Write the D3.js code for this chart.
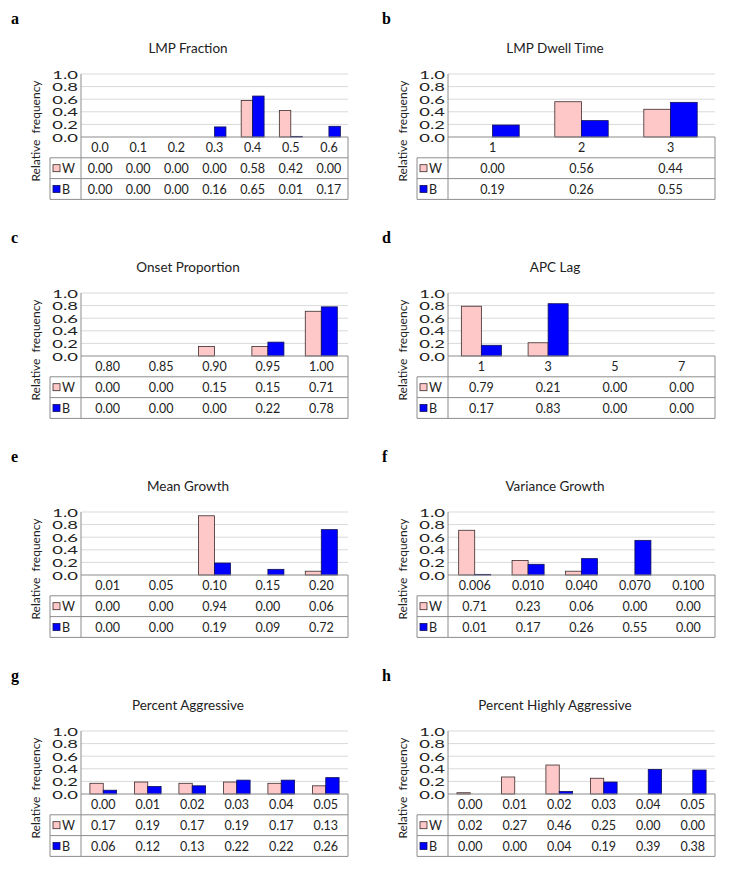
<!DOCTYPE html>
<html><head><meta charset="utf-8">
<script src="https://cdn.jsdelivr.net/npm/d3@7"></script>
<style>body{margin:0;background:#fff}</style>
</head><body><svg id="chart" width="729" height="870"></svg>
<script>
// ---- data ----
const letters = ["a","b","c","d","e","f","g","h"];
const titles = ["LMP Fraction","LMP Dwell Time","Onset Proportion","APC Lag","Mean Growth","Variance Growth","Percent Aggressive","Percent Highly Aggressive"];
const seriesNames = ["W","B"];
const yTicks = [0,0.2,0.4,0.6,0.8,1.0];

const catsA = ["0.0","0.1","0.2","0.3","0.4","0.5","0.6"];
const wA = [0.00,0.00,0.00,0.00,0.58,0.42,0.00];
const bA = [0.00,0.00,0.00,0.16,0.65,0.01,0.17];

const catsB = ["1","2","3"];
const wB = [0.00,0.56,0.44];
const bB = [0.19,0.26,0.55];

const catsC = ["0.80","0.85","0.90","0.95","1.00"];
const wC = [0.00,0.00,0.15,0.15,0.71];
const bC = [0.00,0.00,0.00,0.22,0.78];

const catsD = ["1","3","5","7"];
const wD = [0.79,0.21,0.00,0.00];
const bD = [0.17,0.83,0.00,0.00];

const catsE = ["0.01","0.05","0.10","0.15","0.20"];
const wE = [0.00,0.00,0.94,0.00,0.06];
const bE = [0.00,0.00,0.19,0.09,0.72];

const catsF = ["0.006","0.010","0.040","0.070","0.100"];
const wF = [0.71,0.23,0.06,0.00,0.00];
const bF = [0.01,0.17,0.26,0.55,0.00];

const catsG = ["0.00","0.01","0.02","0.03","0.04","0.05"];
const wG = [0.17,0.19,0.17,0.19,0.17,0.13];
const bG = [0.06,0.12,0.13,0.22,0.22,0.26];

const catsH = ["0.00","0.01","0.02","0.03","0.04","0.05"];
const wH = [0.02,0.27,0.46,0.25,0.00,0.00];
const bH = [0.00,0.00,0.04,0.19,0.39,0.38];

const panels = [
  {cats:catsA, w:wA, b:bA}, {cats:catsB, w:wB, b:bB},
  {cats:catsC, w:wC, b:bC}, {cats:catsD, w:wD, b:bD},
  {cats:catsE, w:wE, b:bE}, {cats:catsF, w:wF, b:bF},
  {cats:catsG, w:wG, b:bG}, {cats:catsH, w:wH, b:bH}
];

// ---- layout / style ----
const colX = [81, 448];
const rowTop = [74, 293, 512, 731];
const plotW = 267, plotH = 63, rowH = 20.8, legendW = 31;
const colors = {W:"#FFC8C8", B:"#0000FF"};
const font = "Lato, 'Open Sans', sans-serif";
const gridColor = "#d9d9d9", lineColor = "#8c8c8c";

const svg = d3.select("#chart");

panels.forEach((p, i) => {
  const x0 = colX[i % 2], y0 = rowTop[Math.floor(i / 2)];
  const g = svg.append("g").attr("transform", `translate(${x0},${y0})`);

  const x = d3.scaleBand().domain(p.cats).range([0, plotW]).paddingInner(0).paddingOuter(0);
  const y = d3.scaleLinear().domain([0, 1]).range([plotH, 0]);
  const inner = d3.scaleBand().domain(seriesNames).range([x.bandwidth()*0.2, x.bandwidth()*0.8]);

  // panel letter
  svg.append("text").attr("x", x0 - (i%2===0 ? 70 : 66)).attr("y", y0 - 50)
    .attr("font-family", "'Liberation Serif', 'Times New Roman', serif")
    .attr("font-weight", "bold").attr("font-size", 16).text(letters[i]);

  // title
  g.append("text").attr("x", (plotW - legendW - 22)/2 + 0).attr("y", -21.5)
    .attr("text-anchor", "middle").attr("font-family", font).attr("font-size", 13.5)
    .attr("fill", "#222").text(titles[i]);

  // gridlines
  g.selectAll("line.grid").data(yTicks.filter(t => t > 0)).join("line")
    .attr("class","grid").attr("x1", 0).attr("x2", plotW)
    .attr("y1", d => y(d)).attr("y2", d => y(d))
    .attr("stroke", gridColor).attr("stroke-width", 1);

  // y axis
  const yAxis = d3.axisLeft(y).tickValues(yTicks).tickFormat(d3.format(".1f")).tickSize(0).tickPadding(0);
  const ya = g.append("g").call(yAxis);
  ya.select(".domain").remove();
  ya.selectAll("text").attr("font-family", font).attr("font-size", 11.5).attr("fill", "#222")
    .attr("x", 0).attr("dy", "0.36em")
    .attr("transform", function(d){ return `translate(-3,0) scale(1.6,1)`; });
  g.append("line").attr("x1",0).attr("x2",0).attr("y1",0).attr("y2",plotH + 3*rowH)
    .attr("stroke", lineColor);

  // y label
  g.append("text").attr("transform", `translate(-41,${57}) rotate(-90)`)
    .attr("text-anchor", "middle").attr("font-family", font).attr("font-size", 12)
    .attr("fill", "#222").attr("xml:space","preserve").text("Relative  frequency");

  // bars
  seriesNames.forEach(s => {
    const vals = s === "W" ? p.w : p.b;
    g.selectAll(null).data(p.cats.map((c, k) => ({c, v: vals[k]}))).join("rect")
      .filter(d => d.v > 0)
      .attr("x", d => x(d.c) + inner(s)).attr("width", inner.bandwidth())
      .attr("y", d => y(d.v)).attr("height", d => plotH - y(d.v))
      .attr("fill", colors[s]).attr("stroke", s === "W" ? "#3a2a2a" : "#10105a").attr("stroke-width", 0.8);
  });

  // x axis line (0.0)
  g.append("line").attr("x1",0).attr("x2",plotW).attr("y1",plotH).attr("y2",plotH).attr("stroke", lineColor);

  // data table
  const t = g.append("g").attr("transform", `translate(0,${plotH})`);
  [1,2,3].forEach(r => {
    t.append("line").attr("x1", -legendW).attr("x2", plotW).attr("y1", r*rowH).attr("y2", r*rowH).attr("stroke", lineColor);
  });
  t.append("line").attr("x1", plotW).attr("x2", plotW).attr("y1", 0).attr("y2", 3*rowH).attr("stroke", lineColor);
  t.append("line").attr("x1", -legendW).attr("x2", -legendW).attr("y1", rowH).attr("y2", 3*rowH).attr("stroke", lineColor);

  t.selectAll("text.cat").data(p.cats).join("text").attr("class","cat")
    .attr("x", d => x(d) + x.bandwidth()/2).attr("y", rowH/2).attr("dy","0.36em")
    .attr("text-anchor","middle").attr("font-family", font).attr("font-size", 12.5).attr("fill","#222").text(d => d);

  seriesNames.forEach((s, si) => {
    const vals = s === "W" ? p.w : p.b;
    const ry = (si + 1) * rowH + rowH/2;
    t.selectAll(null).data(vals).join("text")
      .attr("x", (d, k) => x(p.cats[k]) + x.bandwidth()/2).attr("y", ry).attr("dy","0.36em")
      .attr("text-anchor","middle").attr("font-family", font).attr("font-size", 12.5).attr("fill","#222")
      .text(d => d3.format(".2f")(d));
    t.append("rect").attr("x", -legendW + 3).attr("y", ry - 3.5).attr("width", 7).attr("height", 7)
      .attr("fill", colors[s]).attr("stroke", s === "W" ? "#3a2a2a" : "#10105a").attr("stroke-width", 0.8);
    t.append("text").attr("x", -legendW + 12).attr("y", ry).attr("dy","0.36em")
      .attr("font-family", font).attr("font-size", 12.5).attr("fill","#222").text(s);
  });
});
</script></body></html>
